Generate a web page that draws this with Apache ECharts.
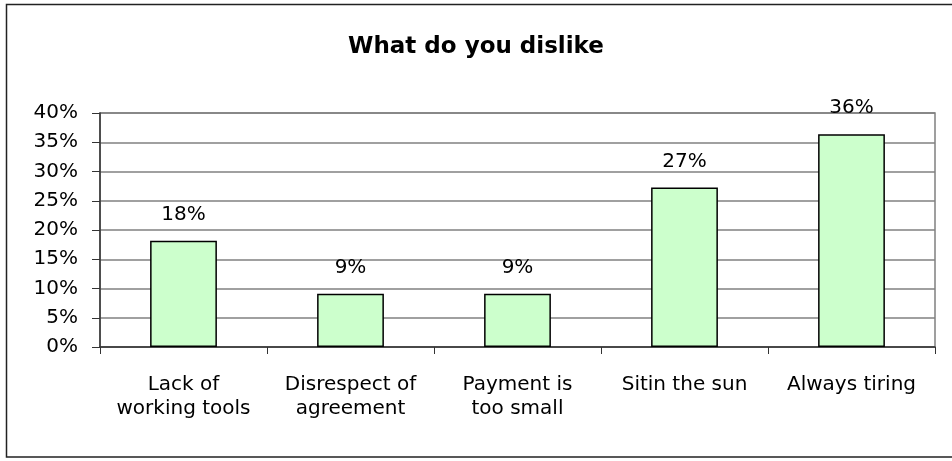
<!DOCTYPE html>
<html>
<head>
<meta charset="utf-8">
<script src="https://cdn.jsdelivr.net/npm/echarts@6/dist/echarts.min.js"></script>
<style>
html,body{margin:0;padding:0;background:#fff;}
#chart{width:952px;height:461px;}
</style>
</head>
<body>
<div id="chart"></div>
<script>
const titleText = 'What do you dislike';
const categories = ['Lack of\nworking tools', 'Disrespect of\nagreement', 'Payment is\ntoo small', 'Sitin the sun', 'Always tiring'];
const values = [18.18, 9.09, 9.09, 27.27, 36.36];
const yTicks = [0, 5, 10, 15, 20, 25, 30, 35, 40];

const FONT = '"DejaVu Sans", "Liberation Sans", Arial, sans-serif';
const chart = echarts.init(document.getElementById('chart'), null, {renderer: 'canvas'});
chart.setOption({
  animation: false,
  backgroundColor: '#ffffff',
  title: {
    text: titleText,
    left: 'center',
    top: 31,
    textStyle: {fontFamily: FONT, fontSize: 23, fontWeight: 'bold', color: '#000'}
  },
  graphic: [{
    type: 'rect',
    shape: {x: 6.5, y: 4.5, width: 960, height: 452.5},
    style: {fill: 'none', stroke: '#222', lineWidth: 1.5},
    silent: true
  }],
  grid: {
    left: 100, right: 17, top: 113, bottom: 114,
    show: true, borderColor: '#808080', borderWidth: 1.5, backgroundColor: 'transparent'
  },
  xAxis: {
    type: 'category',
    data: categories,
    axisLine: {show: true, lineStyle: {color: '#333', width: 1.5}},
    axisTick: {show: true, length: 7, alignWithLabel: false, lineStyle: {color: '#333', width: 1}},
    axisLabel: {
      interval: 0, margin: 26, color: '#000',
      fontFamily: FONT, fontSize: 20, lineHeight: 24
    },
    splitLine: {show: false}
  },
  yAxis: {
    type: 'value',
    min: yTicks[0], max: yTicks[yTicks.length - 1], interval: 5,
    axisLine: {show: true, lineStyle: {color: '#333', width: 1.5}},
    axisTick: {show: true, inside: false, length: 8, lineStyle: {color: '#333', width: 1}},
    axisLabel: {
      margin: 22, color: '#000', fontFamily: FONT, fontSize: 20,
      formatter: v => v + '%'
    },
    splitLine: {show: true, lineStyle: {color: '#808080', width: 1.5}}
  },
  series: [{
    type: 'bar',
    data: values,
    barWidth: '40%',
    itemStyle: {color: '#CCFFCC', borderColor: '#000', borderWidth: 1.5},
    label: {
      show: true, position: 'top', distance: 16,
      color: '#000', fontFamily: FONT, fontSize: 20,
      formatter: p => Math.round(p.value) + '%'
    }
  }]
});
</script>
</body>
</html>
